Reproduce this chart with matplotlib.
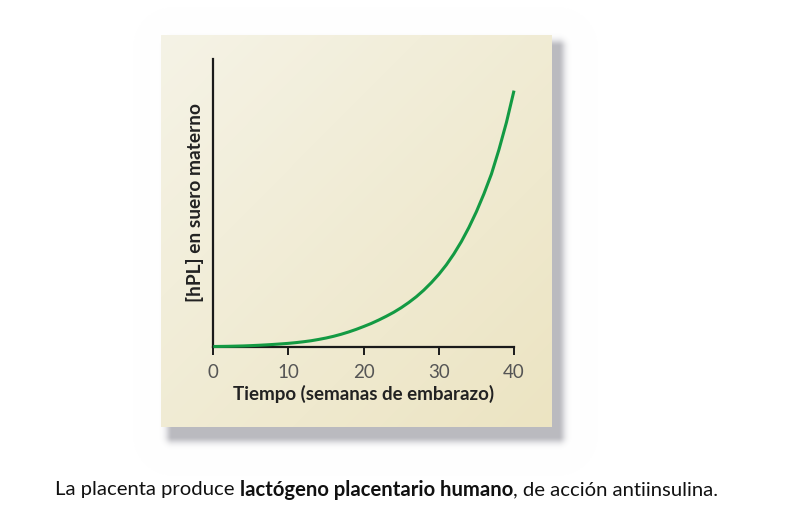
import numpy as np
import matplotlib
matplotlib.use('Agg')
import matplotlib.pyplot as plt

# Data (relative hPL level, axis top = 100)
weeks = list(range(0, 41))
hpl = [0, 0.03, 0.07, 0.13, 0.2, 0.3, 0.42, 0.56, 0.72, 0.9,
       1.1, 1.35, 1.65, 2.0, 2.45, 2.95, 3.55, 4.25, 5.05, 5.95,
       6.95, 8.0, 9.2, 10.5, 11.9, 13.5, 15.3, 17.3, 19.6, 22.2,
       25.1, 28.4, 32.2, 36.5, 41.4, 46.9, 53.1, 60.0, 68.5, 78.0,
       89.0]
xticks = [0, 10, 20, 30, 40]

xlabel = 'Tiempo (semanas de embarazo)'
ylabel = '[hPL] en suero materno'
caption = ['La placenta produce ', 'lactógeno placentario humano', ', de acción antiinsulina.']

W, H = 787, 522
fig = plt.figure(figsize=(W / 100., H / 100.), dpi=100)

# background image: white page, drop shadow, cream gradient panel
yy, xx = np.mgrid[0:H, 0:W].astype(float)
img = np.ones((H, W, 3))

# shadow
sx0, sx1, sy0, sy1 = 172, 558, 46, 436
dx = np.maximum(np.maximum(sx0 - xx, xx - sx1), 0)
dy = np.maximum(np.maximum(sy0 - yy, yy - sy1), 0)
d = np.sqrt(dx**2 + dy**2)
alpha = 0.45 * np.exp(-(d / 6.5)**2)
shadow_col = np.array([0.40, 0.40, 0.45])
img = img * (1 - alpha[..., None]) + shadow_col * alpha[..., None]

# panel
px0, px1, py0, py1 = 161, 552, 35, 427
inside = (xx >= px0) & (xx < px1) & (yy >= py0) & (yy < py1)
t = np.clip(((xx - px0) / (px1 - px0) + (yy - py0) / (py1 - py0)) / 2., 0, 1)
c0 = np.array([0xf5, 0xf3, 0xe6]) / 255.
c1 = np.array([0xec, 0xe4, 0xc2]) / 255.
grad = c0 * (1 - t[..., None]) + c1 * t[..., None]
img[inside] = grad[inside]
fig.figimage(img, 0, 0, zorder=0)

# axes
x_left, x_right, y_top, y_bot = 213.3, 514.0, 59.0, 346.5
ax = fig.add_axes([x_left / W, (H - y_bot) / H, (x_right - x_left) / W, (y_bot - y_top) / H])
ax.set_zorder(2)
ax.patch.set_alpha(0)

ax.plot(weeks, hpl, color='#139a43', lw=2.2, solid_capstyle='butt', solid_joinstyle='round',
        zorder=3, clip_on=False)

ax.set_xlim(0, 40)
ax.set_ylim(0, 100)
ax.spines['top'].set_visible(False)
ax.spines['right'].set_visible(False)
for s in ['left', 'bottom']:
    ax.spines[s].set_linewidth(1.6)
    ax.spines[s].set_color('#1a1a1a')
ax.set_xticks(xticks)
ax.set_xticklabels([str(v) for v in xticks], fontsize=13.5, color='#555555', family='Lato')
ax.tick_params(axis='x', direction='out', length=5.5, width=1.4, color='#1a1a1a', pad=7)
ax.set_yticks([])

ax.set_xlabel(xlabel, fontsize=13.5, fontweight='bold', color='#222222', family='Lato', labelpad=3)
ax.set_ylabel(ylabel, fontsize=13.8, fontweight='bold', color='#222222', family='Lato', labelpad=7)

# caption with a bold middle part
fig.canvas.draw()
r = fig.canvas.get_renderer()
x = 55. / W
for i, part in enumerate(caption):
    tx = fig.text(x, 1 - 490. / H, part, fontsize=14.6, family='Lato',
                  fontweight='bold' if i == 1 else 'normal', color='#111111', va='center', ha='left')
    bb = tx.get_window_extent(renderer=r)
    x = bb.x1 / W

plt.savefig('out.png', dpi=100)
